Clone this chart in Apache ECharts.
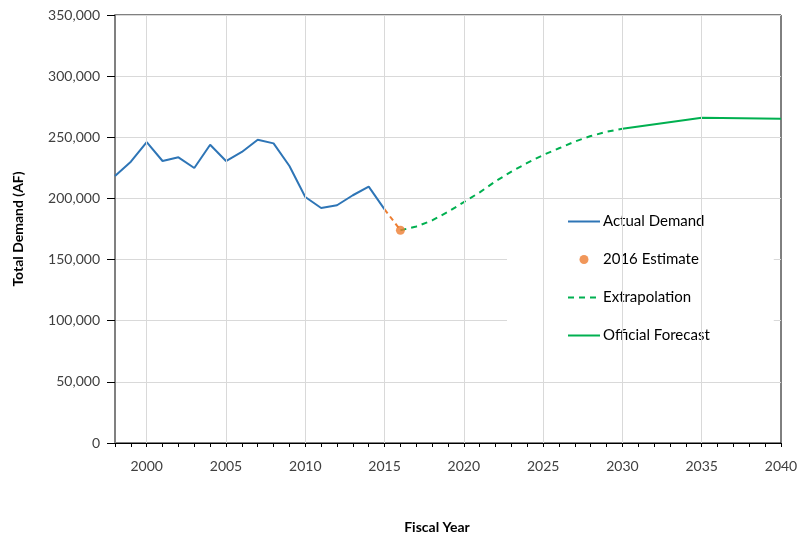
<!DOCTYPE html>
<html>
<head>
<meta charset="utf-8">
<script src="https://cdn.jsdelivr.net/npm/echarts@6/dist/echarts.min.js"></script>
<style>
  html, body { margin: 0; padding: 0; background: #fff; }
  #chart { width: 799px; height: 535px; }
</style>
</head>
<body>
<div id="chart"></div>
<script>
// Historical demand, fiscal years 1998-2015 (acre-feet)
const actualYears = [1998, 1999, 2000, 2001, 2002, 2003, 2004, 2005, 2006, 2007, 2008, 2009, 2010, 2011, 2012, 2013, 2014, 2015];
const actualDemand = [218300, 230000, 246100, 230600, 233600, 224900, 243900, 230600, 238000, 248000, 245000, 226500, 201200, 192200, 194400, 202600, 209600, 191100];

// 2016 estimate
const estimateYear = 2016;
const estimateValue = 174000;

// Extrapolated demand 2016-2030
const extrapYears = [2016, 2017, 2018, 2019, 2020, 2021, 2022, 2023, 2024, 2025, 2026, 2027, 2028, 2029, 2030];
const extrapValues = [174000, 177000, 182000, 189000, 197000, 205000, 214000, 222000, 229000, 235500, 241000, 246500, 251000, 254500, 257000];

// Official forecast
const forecastYears = [2030, 2035, 2040];
const forecastValues = [257000, 266000, 265200];

// Vertical grid positions
const xGridYears = [2000, 2005, 2010, 2015, 2020, 2025, 2030, 2035];

const zip = (xs, ys) => xs.map((x, i) => [x, ys[i]]);

const FONT = 'Lato';
const BLUE = '#2E75B6';
const ORANGE = '#ED7D31';
const GREEN = '#00B050';

// line-only legend entries: hide the symbol drawn in the middle of the icon
const lineOnly = { opacity: 0 };

const chart = echarts.init(document.getElementById('chart'));
chart.setOption({
  animation: false,
  textStyle: { fontFamily: FONT },
  grid: {
    left: 115, right: 18, top: 15, bottom: 92,
    outerBoundsMode: 'none',
    show: true, borderColor: '#000', borderWidth: 1, backgroundColor: 'transparent'
  },
  legend: {
    orient: 'vertical',
    left: 507, top: 203,
    padding: [11, 64, 11, 60],
    backgroundColor: '#fff',
    itemWidth: 32, itemHeight: 9, itemGap: 23,
    textStyle: { fontFamily: FONT, fontSize: 15, color: '#000', padding: [0, 0, 0, -2] },
    data: [
      { name: 'Actual Demand', itemStyle: lineOnly },
      { name: '2016 Estimate', icon: 'circle' },
      { name: 'Extrapolation', itemStyle: lineOnly },
      { name: 'Official Forecast', itemStyle: lineOnly }
    ]
  },
  xAxis: {
    type: 'value',
    min: 1998, max: 2040, interval: 1,
    name: 'Fiscal Year',
    nameLocation: 'middle',
    nameGap: 77,
    nameTextStyle: { fontFamily: FONT, fontSize: 14, fontWeight: 'bold', color: '#000', padding: [0, 22, 0, 0] },
    axisLine: { show: true, onZero: false, lineStyle: { color: '#000', width: 1 } },
    axisTick: { show: true, inside: false, length: 4, lineStyle: { color: '#000' } },
    axisLabel: {
      fontFamily: FONT, fontSize: 14, color: '#404040', margin: 16,
      formatter: v => (v % 5 === 0 ? String(v) : '')
    },
    splitLine: { show: false }
  },
  yAxis: {
    type: 'value',
    min: 0, max: 350000, interval: 50000,
    name: 'Total Demand (AF)',
    nameLocation: 'middle',
    nameGap: 90,
    nameTextStyle: { fontFamily: FONT, fontSize: 14, fontWeight: 'bold', color: '#000' },
    axisLine: { show: true, lineStyle: { color: '#808080', width: 2 } },
    axisTick: { show: true, inside: false, length: 8, lineStyle: { color: '#000' } },
    axisLabel: {
      fontFamily: FONT, fontSize: 14, color: '#404040', margin: 15,
      formatter: v => v.toLocaleString('en-US')
    },
    splitLine: { show: true, lineStyle: { color: '#d9d9d9', width: 1 } }
  },
  series: [
    {
      name: 'grid-x',
      type: 'line',
      data: [],
      z: 1,
      silent: true,
      markLine: {
        silent: true,
        symbol: 'none',
        label: { show: false },
        lineStyle: { color: '#d9d9d9', width: 1, type: 'solid' },
        data: xGridYears.map(y => ({ xAxis: y }))
      }
    },
    {
      name: 'Actual Demand',
      type: 'line',
      data: zip(actualYears, actualDemand),
      symbol: 'none',
      z: 3,
      lineStyle: { color: BLUE, width: 2 },
      itemStyle: { color: BLUE }
    },
    {
      name: 'estimate-link',
      type: 'line',
      data: [[actualYears[actualYears.length - 1], actualDemand[actualDemand.length - 1]], [estimateYear, estimateValue]],
      symbol: 'none',
      z: 3,
      lineStyle: { color: ORANGE, width: 2, type: [5, 4] }
    },
    {
      name: 'Extrapolation',
      type: 'line',
      data: zip(extrapYears, extrapValues),
      symbol: 'none',
      z: 3,
      lineStyle: { color: GREEN, width: 2, type: [6, 5] },
      itemStyle: { color: GREEN }
    },
    {
      name: 'Official Forecast',
      type: 'line',
      data: zip(forecastYears, forecastValues),
      symbol: 'none',
      z: 3,
      lineStyle: { color: GREEN, width: 2 },
      itemStyle: { color: GREEN }
    },
    {
      name: '2016 Estimate',
      type: 'scatter',
      data: [[estimateYear, estimateValue]],
      symbol: 'circle',
      symbolSize: 9,
      z: 4,
      itemStyle: { color: ORANGE }
    }
  ]
});
</script>
</body>
</html>
